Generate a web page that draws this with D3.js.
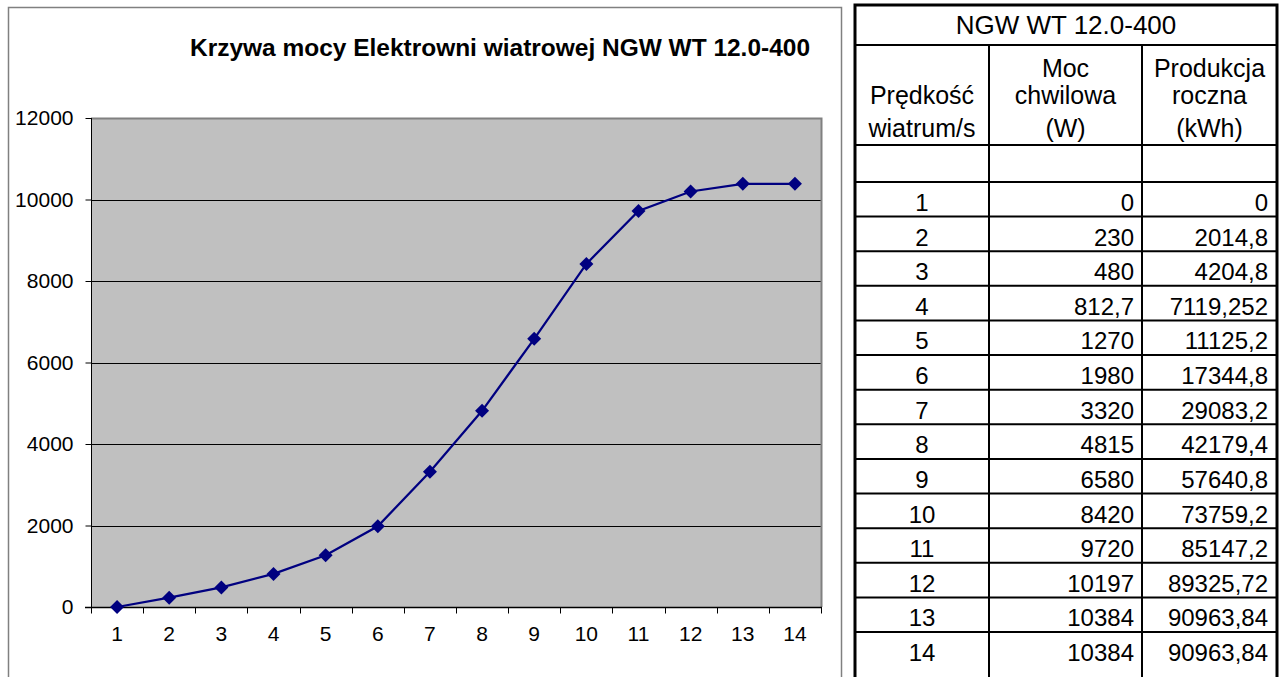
<!DOCTYPE html>
<html>
<head>
<meta charset="utf-8">
<script src="https://cdn.jsdelivr.net/npm/d3@7"></script>
<style>
  body { margin: 0; background: #fff; }
  text { font-family: "Liberation Sans", Arial, sans-serif; }
</style>
</head>
<body>
<div id="chart"></div>
<script>
// wind speed categories (m/s)
var speeds = [1, 2, 3, 4, 5, 6, 7, 8, 9, 10, 11, 12, 13, 14];
// instantaneous power (W)
var power = [0, 230, 480, 812.7, 1270, 1980, 3320, 4815, 6580, 8420, 9720, 10197, 10384, 10384];
// yearly production (kWh), as printed in the table
var production = ["0", "2014,8", "4204,8", "7119,252", "11125,2", "17344,8", "29083,2",
                  "42179,4", "57640,8", "73759,2", "85147,2", "89325,72", "90963,84", "90963,84"];
var powerLabels = ["0", "230", "480", "812,7", "1270", "1980", "3320", "4815", "6580",
                   "8420", "9720", "10197", "10384", "10384"];
var yTicks = [0, 2000, 4000, 6000, 8000, 10000, 12000];
var chartTitle = "Krzywa mocy Elektrowni wiatrowej NGW WT 12.0-400";
var tableTitle = "NGW WT 12.0-400";
var headers = [["Prędkość", "wiatrum/s"], ["Moc", "chwilowa", "(W)"], ["Produkcja", "roczna", "(kWh)"]];

var W = 1284, H = 677;
var svg = d3.select("#chart").append("svg").attr("width", W).attr("height", H);

// chart frame
svg.append("rect").attr("x", 8.5).attr("y", 7.5).attr("width", 833).attr("height", 700)
    .attr("fill", "#fff").attr("stroke", "#808080").attr("stroke-width", 1.5);

svg.append("text").attr("x", 500).attr("y", 56).attr("text-anchor", "middle")
    .attr("font-size", 24).attr("font-weight", "bold")
    .attr("textLength", 620).attr("lengthAdjust", "spacingAndGlyphs")
    .text(chartTitle);

var plot = {left: 91, top: 118, right: 821, bottom: 607};

var x = d3.scaleBand().domain(speeds).range([plot.left, plot.right]);
var y = d3.scaleLinear().domain([0, 12000]).range([plot.bottom, plot.top]);

svg.append("rect").attr("x", plot.left).attr("y", plot.top)
    .attr("width", plot.right - plot.left).attr("height", plot.bottom - plot.top)
    .attr("fill", "#c0c0c0");

// gridlines
svg.append("g").selectAll("line").data(yTicks.filter(function (d) { return d > 0 && d < 12000; }))
    .enter().append("line")
    .attr("x1", plot.left).attr("x2", plot.right)
    .attr("y1", function (d) { return Math.round(y(d)) + 0.5; })
    .attr("y2", function (d) { return Math.round(y(d)) + 0.5; })
    .attr("stroke", "#000").attr("stroke-width", 1);

// top & right border of plot area
svg.append("path")
    .attr("d", "M" + plot.left + "," + (plot.top + 0.5) + "H" + (plot.right + 0.5) + "V" + plot.bottom)
    .attr("fill", "none").attr("stroke", "#808080").attr("stroke-width", 2);

// y axis
var yAxis = svg.append("g").attr("transform", "translate(" + (plot.left + 0.5) + ",0)")
    .call(d3.axisLeft(y).tickValues(yTicks).tickSize(6).tickPadding(12).tickFormat(d3.format("d")));
yAxis.selectAll("text").attr("font-size", 21).attr("fill", "#000")
    .style("font-family", "'Liberation Sans', Arial, sans-serif");
yAxis.selectAll("line, path").attr("stroke", "#000");
yAxis.select(".domain").attr("d", "M0," + plot.top + "V" + plot.bottom);

// x axis with ticks on category boundaries
var xg = svg.append("g").attr("transform", "translate(0," + (plot.bottom + 0.5) + ")");
xg.append("line").attr("x1", plot.left - 6).attr("x2", plot.right + 1)
    .attr("stroke", "#000").attr("stroke-width", 1.5);
xg.selectAll(".tk").data(speeds.concat([null])).enter().append("line")
    .attr("class", "tk")
    .attr("x1", function (d, i) { return Math.round(plot.left + i * x.bandwidth()) + 0.5; })
    .attr("x2", function (d, i) { return Math.round(plot.left + i * x.bandwidth()) + 0.5; })
    .attr("y1", 0).attr("y2", 6).attr("stroke", "#000");
xg.selectAll(".lb").data(speeds).enter().append("text")
    .attr("class", "lb")
    .attr("x", function (d) { return x(d) + x.bandwidth() / 2; })
    .attr("y", 33).attr("text-anchor", "middle").attr("font-size", 21)
    .text(function (d) { return d; });

// series
var cx = function (d, i) { return x(speeds[i]) + x.bandwidth() / 2; };
svg.append("path").datum(power)
    .attr("d", d3.line().x(cx).y(function (d) { return y(d); }))
    .attr("fill", "none").attr("stroke", "#000080").attr("stroke-width", 2.25);
svg.append("g").selectAll("path").data(power).enter().append("path")
    .attr("transform", function (d, i) { return "translate(" + cx(d, i) + "," + y(d) + ")"; })
    .attr("d", "M0,-7L7,0L0,7L-7,0Z")
    .attr("fill", "#000080");

// table
var tbl = svg.append("g");
var colX = [855, 989, 1142, 1277];
var tTop = 5, titleBottom = 45, headBottom = 145, blankBottom = 182, lastLine = 632;
var rowH = (lastLine - blankBottom) / (speeds.length - 1);
var rowTop = function (i) { return blankBottom + i * rowH; };
var fs = 25, fsRow = 24;

tbl.append("text").attr("x", (colX[0] + colX[3]) / 2).attr("y", 34)
    .attr("text-anchor", "middle").attr("font-size", 26).text(tableTitle);

var headBase = [77, 104, 137];
headers.forEach(function (lines, c) {
    var off = 3 - lines.length;
    lines.forEach(function (t, k) {
        tbl.append("text").attr("x", (colX[c] + colX[c + 1]) / 2).attr("y", headBase[k + off])
            .attr("text-anchor", "middle").attr("font-size", fs).text(t);
    });
});

var rows = tbl.selectAll(".row").data(speeds).enter().append("g").attr("class", "row");
rows.append("text").attr("x", (colX[0] + colX[1]) / 2)
    .attr("y", function (d, i) { return rowTop(i) + 29; })
    .attr("text-anchor", "middle").attr("font-size", fsRow).text(function (d) { return d; });
rows.append("text").attr("x", colX[2] - 8)
    .attr("y", function (d, i) { return rowTop(i) + 29; })
    .attr("text-anchor", "end").attr("font-size", fsRow).text(function (d, i) { return powerLabels[i]; });
rows.append("text").attr("x", colX[3] - 9)
    .attr("y", function (d, i) { return rowTop(i) + 29; })
    .attr("text-anchor", "end").attr("font-size", fsRow).text(function (d, i) { return production[i]; });

// inner horizontal lines
var hLines = [titleBottom, headBottom, blankBottom];
for (var i = 1; i < speeds.length; i++) hLines.push(rowTop(i));
tbl.selectAll(".hl").data(hLines).enter().append("line").attr("class", "hl")
    .attr("x1", colX[0]).attr("x2", colX[3])
    .attr("y1", function (d) { return d; }).attr("y2", function (d) { return d; })
    .attr("stroke", "#000").attr("stroke-width", 2);
tbl.selectAll(".vl").data([colX[1], colX[2]]).enter().append("line").attr("class", "vl")
    .attr("x1", function (d) { return d; }).attr("x2", function (d) { return d; })
    .attr("y1", titleBottom).attr("y2", H + 10)
    .attr("stroke", "#000").attr("stroke-width", 2);
// outer border
tbl.append("rect").attr("x", colX[0]).attr("y", tTop)
    .attr("width", colX[3] - colX[0]).attr("height", H + 20)
    .attr("fill", "none").attr("stroke", "#000").attr("stroke-width", 3);
</script>
</body>
</html>
